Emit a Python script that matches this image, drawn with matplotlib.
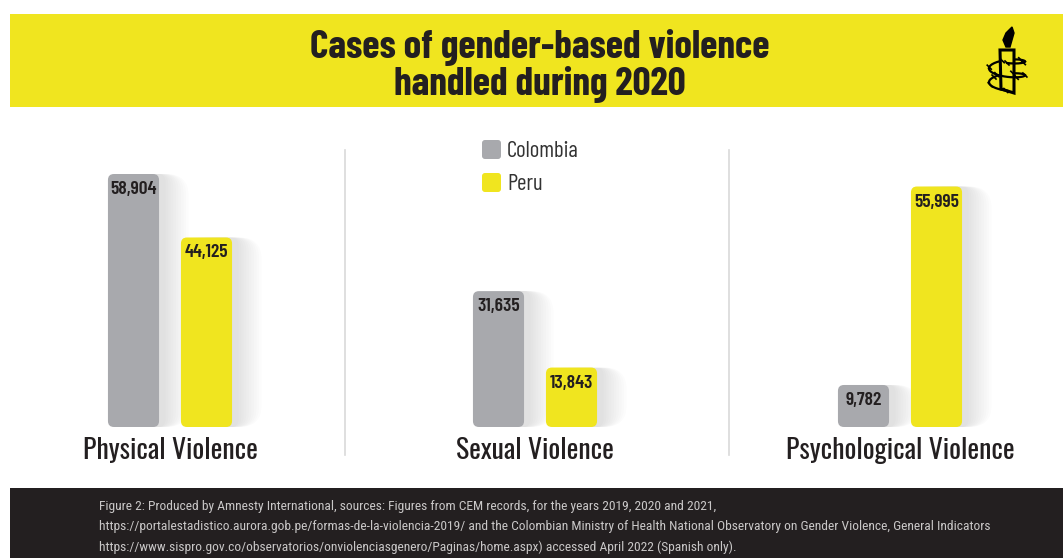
import numpy as np
import matplotlib.pyplot as plt
from matplotlib.patches import FancyBboxPatch, Rectangle, Polygon

# values
categories = ['Physical Violence', 'Sexual Violence', 'Psychological Violence']
countries = ['Colombia', 'Peru']
colombia = [58904, 31635, 9782]
peru = [44125, 13843, 55995]

title_lines = ['Cases of gender-based violence', 'handled during 2020']
footer = ('Figure 2: Produced by Amnesty International, sources: Figures from CEM records, for the years 2019, 2020 and 2021,\n'
          'https://portalestadistico.aurora.gob.pe/formas-de-la-violencia-2019/ and the Colombian Ministry of Health National '
          'Observatory on Gender Violence, General Indicators\n'
          'https://www.sispro.gov.co/observatorios/onviolenciasgenero/Paginas/home.aspx) accessed April 2022 (Spanish only).')

GRAY = '#a8a9ad'
YELLOW = '#f0e51f'
INK = '#231f20'
HEAD = ['Barlow Condensed', 'Roboto Condensed', 'DejaVu Sans']
LABEL = ['Oswald', 'Roboto Condensed', 'DejaVu Sans']
BODY = ['Roboto Condensed', 'DejaVu Sans']

W, H = 1063, 558
fig = plt.figure(figsize=(W / 100, H / 100), dpi=100)
fig.patch.set_facecolor('white')

# overlay in pixel units for banner, footer, dividers and logo
bg = fig.add_axes([0, 0, 1, 1], zorder=0)
bg.set_xlim(0, W)
bg.set_ylim(H, 0)
bg.axis('off')
bg.add_patch(Rectangle((10, 14), W - 10, 93, color=YELLOW, lw=0))
bg.add_patch(Rectangle((10, 488), W - 10, 70, color='#231f20', lw=0))
for yb, line in zip((58, 95), title_lines):
    bg.text(540, yb, line, ha='center', va='baseline', fontsize=28.5, fontweight='bold',
            color=INK, family=HEAD)
bg.text(99, 527, footer, ha='left', va='center', fontsize=9.7, color='#c9c7c7',
        family=BODY, linespacing=1.7)
for xd in (345, 729):
    bg.plot([xd, xd], [150, 455], color='#d9d9d9', lw=1.2)

# candle logo
bg.add_patch(Polygon([(1000, 50), (1014, 50), (1014, 93), (1001, 89)], closed=True,
                     facecolor=YELLOW, edgecolor='black', lw=2.2, zorder=3))
bg.add_patch(Polygon([(1006, 47), (1003, 40), (1006, 33), (1012, 27), (1014, 33),
                      (1012, 40), (1010, 47)], closed=True, facecolor='black',
                     edgecolor='black', lw=1, zorder=3))
t = np.linspace(0, 4 * np.pi, 200)
wx = 1007 + 18 * np.sin(t)
wy = 58 + t * 2.2 + 5 * np.cos(t)
front = np.cos(t) > 0
wx_back = np.where(front, np.nan, wx)
wx_front = np.where(front, wx, np.nan)
bg.plot(wx_back, wy, color='black', lw=1.6, zorder=2)
bg.plot(wx_front, wy, color='black', lw=1.6, zorder=4)
for k in range(0, 200, 18):
    bg.plot([wx[k] - 2, wx[k] + 2], [wy[k] - 2, wy[k] + 2], color='black', lw=1.2, zorder=4)

# bar chart axes: baseline at y=427 px, top at y=107 px
ax = fig.add_axes([0, (H - 427) / H, 1, (427 - 107) / H], zorder=1)
ax.patch.set_alpha(0)
px_x = 365.0                 # pixels per category step
px_per_unit = 4.295 / 1000   # pixels per case
ax.set_xlim(-170 / px_x, (W - 170) / px_x)
ax.set_ylim(0, 320 / px_per_unit)
ax.axis('off')

x = np.arange(len(categories))
width = 0.14
offset = 0.1
r = 6 / px_x
aspect = (1 / px_per_unit) / (1 / px_x)

def rounded_bars(xs, vals, color):
    bars = ax.bar(xs, vals, width=width, color=color)
    for b, v in zip(bars, vals):
        b.set_visible(False)
        x0, w, h = b.get_x(), b.get_width(), b.get_height()
        # soft shadow to the right
        for i in range(10):
            grow = (i + 1) * 1.6
            ax.add_patch(FancyBboxPatch(
                (x0 + (4 + grow * 0.6) / px_x, 0), w + grow / px_x, h,
                boxstyle=f'round,pad=0,rounding_size={r + grow / px_x}',
                mutation_aspect=aspect, facecolor='#000000', alpha=0.012,
                lw=0, zorder=1))
        ax.add_patch(FancyBboxPatch(
            (x0, 0), w, h, boxstyle=f'round,pad=0,rounding_size={r}',
            mutation_aspect=aspect, facecolor=color, lw=0, zorder=2))
        ax.annotate(f'{v:,}', (b.get_x() + w / 2, h), xytext=(0, -20),
                    textcoords='offset pixels', ha='center', va='baseline',
                    fontsize=14, fontweight='semibold', color=INK, family=HEAD,
                    zorder=3)

rounded_bars(x - offset, colombia, GRAY)
rounded_bars(x + offset, peru, YELLOW)

for xi, cat in zip(x, categories):
    ax.annotate(cat, (xi, 0), xytext=(0, -32), textcoords='offset pixels',
                ha='center', va='baseline', fontsize=20, color=INK, family=LABEL,
                annotation_clip=False)

# legend drawn as swatches in pixel space
for i, (name, col) in enumerate(zip(countries, [GRAY, YELLOW])):
    y0 = 140 + i * 33
    bg.add_patch(FancyBboxPatch((482, y0), 19, 19, boxstyle='round,pad=0,rounding_size=3',
                                facecolor=col, lw=0))
    bg.text(507, y0 + 17, name, ha='left', va='baseline', fontsize=16.5,
            color='#333333', family=HEAD)

fig.savefig('out.png', dpi=100)
